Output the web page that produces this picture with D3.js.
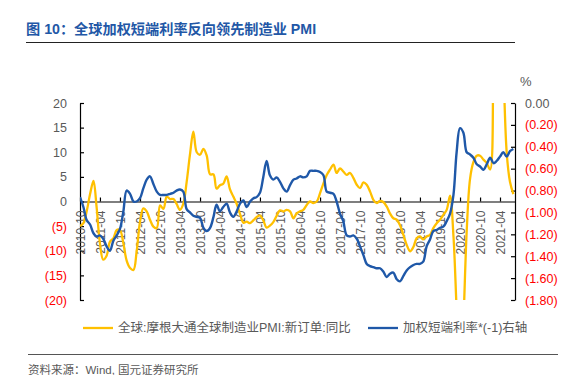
<!DOCTYPE html>
<html>
<head>
<meta charset="utf-8">
<script src="https://cdn.jsdelivr.net/npm/d3@7"></script>
<style>
  body { margin: 0; background: #fff; }
  svg { display: block; }
  text { font-family: Arial, "Liberation Sans", sans-serif; }
  .cjk { font-family: Arial, "Liberation Sans", "Noto Sans CJK SC", sans-serif; }
</style>
</head>
<body>
<div id="chart"></div>
<script>
// first month of both series, one value per month after that
var startMonth = "2010-10";

// 全球:摩根大通全球制造业PMI:新订单:同比 (left axis)
var pmiNewOrders = [
  -5.0, -4.4, -2.0, 1.5, 4.2, -1.0, -8.5, -11.8, -11.0, -8.2,
  -7.5, -5.8, -5.8, -8.5, -12.0, -13.5, -13.9, -10.2, -4.1, -1.4,
  -2.0, -3.7, -5.1, -5.4, -0.8, -1.5, 1.0, 0.5, 0.5, -0.5,
  -1.7, -0.5, 4.0, 9.5, 14.2, 10.0, 9.5, 10.7, 9.3, 5.5,
  5.5, 2.6, 3.3, 3.6, 5.1, 2.5, 1.0, -0.5, -2.5, -4.3,
  -4.1, -4.4, -3.8, -3.2, -2.8, -3.8, -5.3, -4.9, -4.2, -2.9,
  -1.8, -2.0, -1.7, -2.0, -3.4, -2.4, -2.0, -1.7, -0.7, 0.0,
  -0.3, 0.0, 1.7, 3.7, 5.4, 6.5, 7.5, 5.8, 6.7, 6.1,
  5.4, 5.8, 4.8, 3.4, 2.7, 3.9, 3.4, 2.0, 0.3, -0.3,
  0.1, -0.1, -1.0, -2.4, -3.4, -3.7, -4.8, -6.8, -8.8, -10.1,
  -9.2, -7.5, -7.1, -7.7, -7.1, -6.8, -5.4, -4.4, -3.7, -2.7,
  -1.7, 1.2, -7.0, -22.0, -38.0, -25.0, -6.0, 4.5, 8.0, 9.3,
  9.3, 8.5, 7.8, 6.5, 30.0, 42.0, 45.0, 28.0, 10.0, 4.0,
  1.5
];

// 加权短端利率*(-1), % (right axis)
var shortRateInv = [
  -0.86, -0.95, -1.07, -1.11, -1.19, -1.22, -1.21, -1.24, -1.31, -1.35,
  -1.26, -1.21, -1.15, -0.99, -0.80, -0.83, -0.90, -0.90, -0.87, -0.78,
  -0.70, -0.67, -0.74, -0.81, -0.84, -0.84, -0.84, -0.83, -0.82, -0.80,
  -0.79, -0.81, -0.97, -1.00, -1.03, -1.04, -1.05, -1.14, -1.17, -1.14,
  -1.04, -0.93, -0.99, -0.95, -0.92, -1.00, -1.04, -0.99, -0.92, -0.89,
  -0.95, -0.90, -0.87, -0.86, -0.82, -0.68, -0.53, -0.66, -0.70, -0.68,
  -0.72, -0.78, -0.81, -0.75, -0.70, -0.69, -0.67, -0.68, -0.67, -0.62,
  -0.62, -0.62, -0.63, -0.66, -0.81, -0.82, -0.83, -0.90, -1.01, -1.08,
  -1.21, -1.22, -1.21, -1.24, -1.31, -1.39, -1.47, -1.49, -1.50, -1.51,
  -1.51, -1.54, -1.59, -1.56, -1.55, -1.61, -1.63, -1.58, -1.53, -1.50,
  -1.48, -1.47, -1.47, -1.45, -1.31, -1.25, -1.17, -1.16, -1.14, -1.13,
  -1.08, -1.01, -0.84, -0.45, -0.23, -0.27, -0.45, -0.47, -0.50, -0.56,
  -0.58, -0.61, -0.56, -0.50, -0.55, -0.53, -0.49, -0.45, -0.49, -0.44,
  -0.42
];

var xTickLabels = ["2010-10", "2011-04", "2011-10", "2012-04", "2012-10", "2013-04",
  "2013-10", "2014-04", "2014-10", "2015-04", "2015-10", "2016-04", "2016-10",
  "2017-04", "2017-10", "2018-04", "2018-10", "2019-04", "2019-10", "2020-04",
  "2020-10", "2021-04"];
var leftTicks = [20, 15, 10, 5, 0, -5, -10, -15, -20];
var rightTicks = [0, -0.2, -0.4, -0.6, -0.8, -1.0, -1.2, -1.4, -1.6, -1.8];

var seriesNames = ["全球:摩根大通全球制造业PMI:新订单:同比", "加权短端利率*(-1)右轴"];
var titleText = "图 10：全球加权短端利率反向领先制造业 PMI";
var sourceText = "资料来源：Wind, 国元证券研究所";

var svgWidth = 586;
var svgHeight = 375;

// plot box
var margin = { top: 103, right: 71, bottom: 75, left: 80 };
var width = svgWidth - margin.left - margin.right;
var height = svgHeight - margin.top - margin.bottom;

var orange = "#FFC000";
var blue = "#1F58A8";
var gray = "#595959";
var red = "#FF0000";

var svg = d3.select("#chart")
    .append("svg")
    .attr("width", svgWidth)
    .attr("height", svgHeight);

// title + rule under it
svg.append("text")
    .attr("class", "cjk")
    .attr("x", 26)
    .attr("y", 34)
    .attr("fill", "#2257A6")
    .attr("font-size", "14.2px")
    .attr("font-weight", "bold")
    .text(titleText);

svg.append("line")
    .attr("x1", 26).attr("x2", 515)
    .attr("y1", 42.5).attr("y2", 42.5)
    .attr("stroke", "#222")
    .attr("stroke-width", 1);

var parseMonth = d3.timeParse("%Y-%m");
var firstDate = parseMonth(startMonth);
var dates = pmiNewOrders.map((d, i) => d3.timeMonth.offset(firstDate, i));
var lastDate = dates[dates.length - 1];

var chartGroup = svg.append("g")
    .attr("transform", `translate(${margin.left}, ${margin.top})`);

// scales
var xScale = d3.scaleTime()
    .domain([firstDate, d3.timeDay.offset(lastDate, 15)])
    .range([0, width]);

var yLeft = d3.scaleLinear()
    .domain([-20, 20])
    .range([height, 0]);

var yRight = d3.scaleLinear()
    .domain([-1.8, 0])
    .range([height, 0]);

function fmtLeft(d) { return d < 0 ? `(${-d})` : `${d}`; }
function fmtRight(d) { return d < 0 ? `(${(-d).toFixed(2)})` : d.toFixed(2); }

// left axis, ticks pointing in
var leftAxis = d3.axisLeft(yLeft)
    .tickValues(leftTicks)
    .tickSizeInner(-4)
    .tickSizeOuter(0)
    .tickPadding(13)
    .tickFormat(fmtLeft);

var leftG = chartGroup.append("g").call(leftAxis);
leftG.selectAll("text")
    .attr("font-size", "12.5px")
    .attr("fill", d => d < 0 ? red : gray);

// right axis
var rightAxis = d3.axisRight(yRight)
    .tickValues(rightTicks)
    .tickSizeInner(-4)
    .tickSizeOuter(0)
    .tickPadding(10)
    .tickFormat(fmtRight);

var rightG = chartGroup.append("g")
    .attr("transform", `translate(${width}, 0)`)
    .call(rightAxis);
rightG.selectAll("text")
    .attr("font-size", "12.5px")
    .attr("fill", d => d < 0 ? red : gray);

// x axis sits on left zero
var botAxis = d3.axisBottom(xScale)
    .tickValues(xTickLabels.map(parseMonth))
    .tickSizeInner(-4)
    .tickSizeOuter(0)
    .tickFormat(d3.timeFormat("%Y-%m"));

var botG = chartGroup.append("g")
    .attr("transform", `translate(0, ${yLeft(0)})`)
    .call(botAxis);
botG.selectAll("text")
    .attr("font-size", "12px")
    .attr("fill", gray)
    .attr("transform", "rotate(-90)")
    .attr("x", -9)
    .attr("y", 0)
    .attr("dy", "0.35em")
    .style("text-anchor", "end");

[leftG, rightG, botG].forEach(g => {
    g.selectAll("path, line").attr("stroke", "#000").attr("stroke-width", 1.2);
});

// % unit above right axis
svg.append("text")
    .attr("x", 520)
    .attr("y", 86)
    .attr("fill", gray)
    .attr("font-size", "13px")
    .text("%");

// clip so the 2020-21 swings are cut at the frame
chartGroup.append("clipPath")
    .attr("id", "plotClip")
    .append("rect")
    .attr("x", 0).attr("y", 0)
    .attr("width", width).attr("height", height);

var lineOrange = d3.line()
    .x((d, i) => xScale(dates[i]))
    .y(d => yLeft(d))
    .curve(d3.curveCatmullRom);

var lineBlue = d3.line()
    .x((d, i) => xScale(dates[i]))
    .y(d => yRight(d))
    .curve(d3.curveCatmullRom);

var linesG = chartGroup.append("g").attr("clip-path", "url(#plotClip)");

linesG.append("path")
    .datum(pmiNewOrders)
    .attr("d", lineOrange)
    .attr("fill", "none")
    .attr("stroke", orange)
    .attr("stroke-width", 2.3);

linesG.append("path")
    .datum(shortRateInv)
    .attr("d", lineBlue)
    .attr("fill", "none")
    .attr("stroke", blue)
    .attr("stroke-width", 2.4);

// legend
var legendItems = [
    { name: seriesNames[0], color: orange, x: 83 },
    { name: seriesNames[1], color: blue, x: 368 }
];
var legend = svg.append("g").attr("transform", "translate(0, 328)");
legendItems.forEach(item => {
    legend.append("line")
        .attr("x1", item.x).attr("x2", item.x + 30)
        .attr("y1", 0).attr("y2", 0)
        .attr("stroke", item.color)
        .attr("stroke-width", 2.3);
    legend.append("text")
        .attr("class", "cjk")
        .attr("x", item.x + 35)
        .attr("y", 0)
        .attr("dy", "0.35em")
        .attr("fill", gray)
        .attr("font-size", "12.5px")
        .text(item.name);
});

// source line
svg.append("line")
    .attr("x1", 28).attr("x2", 558)
    .attr("y1", 354.5).attr("y2", 354.5)
    .attr("stroke", "#555")
    .attr("stroke-width", 1);

svg.append("text")
    .attr("class", "cjk")
    .attr("x", 28)
    .attr("y", 370)
    .attr("dy", "0.35em")
    .attr("fill", gray)
    .attr("font-size", "11.5px")
    .text(sourceText);
</script>
</body>
</html>
